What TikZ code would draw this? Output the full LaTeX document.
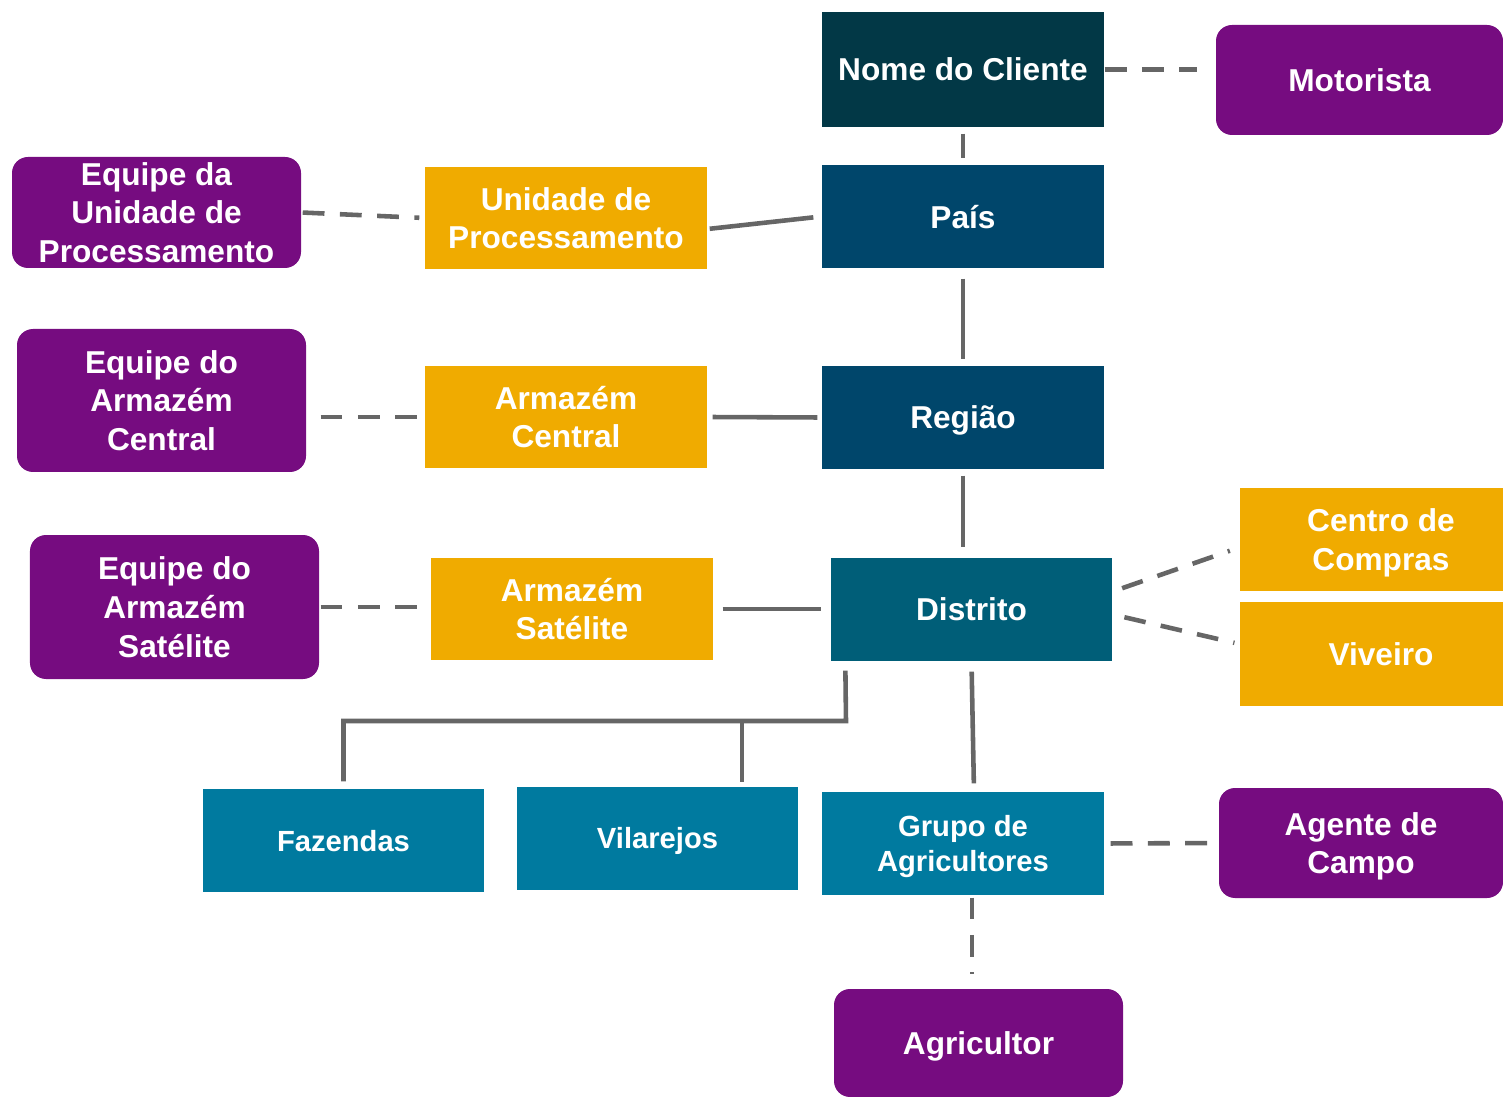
\documentclass[tikz,border=0pt]{standalone}
\usepackage{fontspec}
\setmainfont{Liberation Sans}
\usetikzlibrary{shapes,calc,positioning}
\definecolor{clientteal}{HTML}{023846}
\definecolor{levelnavy}{HTML}{00466B}
\definecolor{districtblue}{HTML}{005E78}
\definecolor{fieldblue}{HTML}{007A9F}
\definecolor{sitegold}{HTML}{F0AB00}
\definecolor{teamplum}{HTML}{760C80}
\definecolor{linkgray}{HTML}{666666}
\begin{document}
\begin{tikzpicture}[font=\fontsize{9}{11}\selectfont\bfseries]
             \tikzstyle{box} = [text=white,align=center,inner sep=0pt,text depth=0pt,minimum width=2.82cm,minimum height=1.03cm]
             \tikzstyle{clientbox} = [box,fill=clientteal,minimum height=1.15cm]
             \tikzstyle{levelbox} = [box,fill=levelnavy]
             \tikzstyle{districtbox} = [box,fill=districtblue,minimum width=2.81cm]
             \tikzstyle{fieldbox} = [box,fill=fieldblue,minimum width=2.81cm,font=\fontsize{8.3}{10}\selectfont\bfseries]
             \tikzstyle{sitebox} = [box,fill=sitegold,minimum height=1.02cm]
             \tikzstyle{teambox} = [box,fill=teamplum,rounded corners=1.6mm,minimum width=2.89cm]
             \tikzstyle{solidlink} = [draw=linkgray,line width=1.3pt]
             \tikzstyle{dashlink} = [solidlink,dash pattern=on 6.2pt off 4.4pt]
		\useasboundingbox (0,0) rectangle (15.03,-10.97);
		% Top
		\node[clientbox] (nome) at (9.63,-0.695) {Nome do Cliente};
		\node[teambox,minimum width=2.87cm,minimum height=1.10cm] (motorista) at (13.595,-0.80) {Motorista};
		\draw[dashlink,shorten >=0.18cm] (nome.east) -- (nome.east -| motorista.west);
		% Country level
		\node[levelbox] (pais) at (9.63,-2.165) {País};
		\node[sitebox] (unidade) at (5.66,-2.18) {Unidade de\\Processamento};
		\node[teambox,minimum height=1.11cm] (eqUnidade) at (1.565,-2.125) {Equipe da\\Unidade de\\Processamento};
		\draw[solidlink,shorten <=0.06cm,shorten >=0.06cm] (nome) -- (pais);
		\draw[solidlink,shorten <=0.02cm,shorten >=0.08cm] ([yshift=-1.1mm]unidade.east) -- (pais.west);
		\draw[dashlink,shorten <=0.01cm,shorten >=0.05cm] (eqUnidade.east) -- (unidade.west);
		% Region level
		\node[levelbox] (regiao) at (9.63,-4.175) {Região};
		\node[sitebox] (armCentral) at (5.66,-4.17) {Armazém\\Central};
		\node[teambox,minimum height=1.43cm] (eqCentral) at (1.615,-4.005) {Equipe do\\Armazém\\Central};
		\draw[solidlink,shorten <=0.1cm,shorten >=0.06cm] (pais) -- (regiao);
		\draw[solidlink,shorten <=0.05cm,shorten >=0.04cm] (armCentral.east) -- (regiao.west);
		\draw[dashlink,shorten <=0.14cm,shorten >=0.07cm] (eqCentral.east |- armCentral.west) -- (armCentral.west);
		% District level
		\node[districtbox] (distrito) at (9.715,-6.095) {Distrito};
		\node[sitebox] (armSatelite) at (5.72,-6.09) {Armazém\\Satélite};
		\node[teambox,minimum height=1.44cm] (eqSatelite) at (1.745,-6.07) {Equipe do\\Armazém\\Satélite};
		\node[sitebox,minimum height=1.03cm] (centro) at (13.81,-5.395) {Centro de\\Compras};
		\node[sitebox,minimum height=1.04cm] (viveiro) at (13.81,-6.54) {Viveiro};
		\draw[solidlink,shorten <=0.06cm,shorten >=0.1cm] (regiao.south) -- (regiao.south |- distrito.north);
		\draw[solidlink,shorten <=0.09cm,shorten >=0.09cm] (armSatelite.east) -- (armSatelite.east -| distrito.west);
		\draw[dashlink,shorten <=0.01cm,shorten >=0.12cm] (eqSatelite.east) -- (eqSatelite.east -| armSatelite.west);
		\draw[dashlink,shorten <=0.1cm,shorten >=0.1cm] ([yshift=1.8mm]distrito.east) -- ([yshift=-0.8mm]centro.west);
		\draw[dashlink,shorten <=0.12cm,shorten >=0.05cm] ([yshift=-0.5mm]distrito.east) -- ([yshift=1mm]viveiro.west);
		% Field level
		\node[fieldbox] (fazendas) at (3.435,-8.405) {Fazendas};
		\node[fieldbox] (vilarejos) at (6.575,-8.38) {Vilarejos};
		\node[fieldbox,minimum width=2.82cm] (grupo) at (9.63,-8.435) {Grupo de\\Agricultores};
		\node[teambox,minimum width=2.84cm,minimum height=1.10cm] (agente) at (13.61,-8.43) {Agente de\\Campo};
		\node[teambox,minimum height=1.08cm] (agricultor) at (9.785,-10.43) {Agricultor};
		\coordinate (bus) at (8.46,-7.21);
		\coordinate (vilbus) at (7.42,-7.21);
		\draw[solidlink,shorten <=0.09cm,shorten >=0.07cm] ([xshift=1.5mm]distrito.south west) -- (bus) -| (fazendas.north);
		\draw[solidlink,shorten >=0.04cm] (vilbus) -- (vilbus |- vilarejos.north);
		\draw[solidlink,shorten <=0.1cm,shorten >=0.08cm] (distrito.south) -- ([xshift=1.1mm]grupo.north);
		\draw[dashlink,shorten <=0.06cm,shorten >=0.11cm] (grupo.east) -- (agente.west);
		\draw[dashlink,shorten <=0.02cm,shorten >=0.14cm] ([xshift=0.9mm]grupo.south) -- ([xshift=0.9mm]grupo.south |- agricultor.north);
		\end{tikzpicture}
\end{document}
